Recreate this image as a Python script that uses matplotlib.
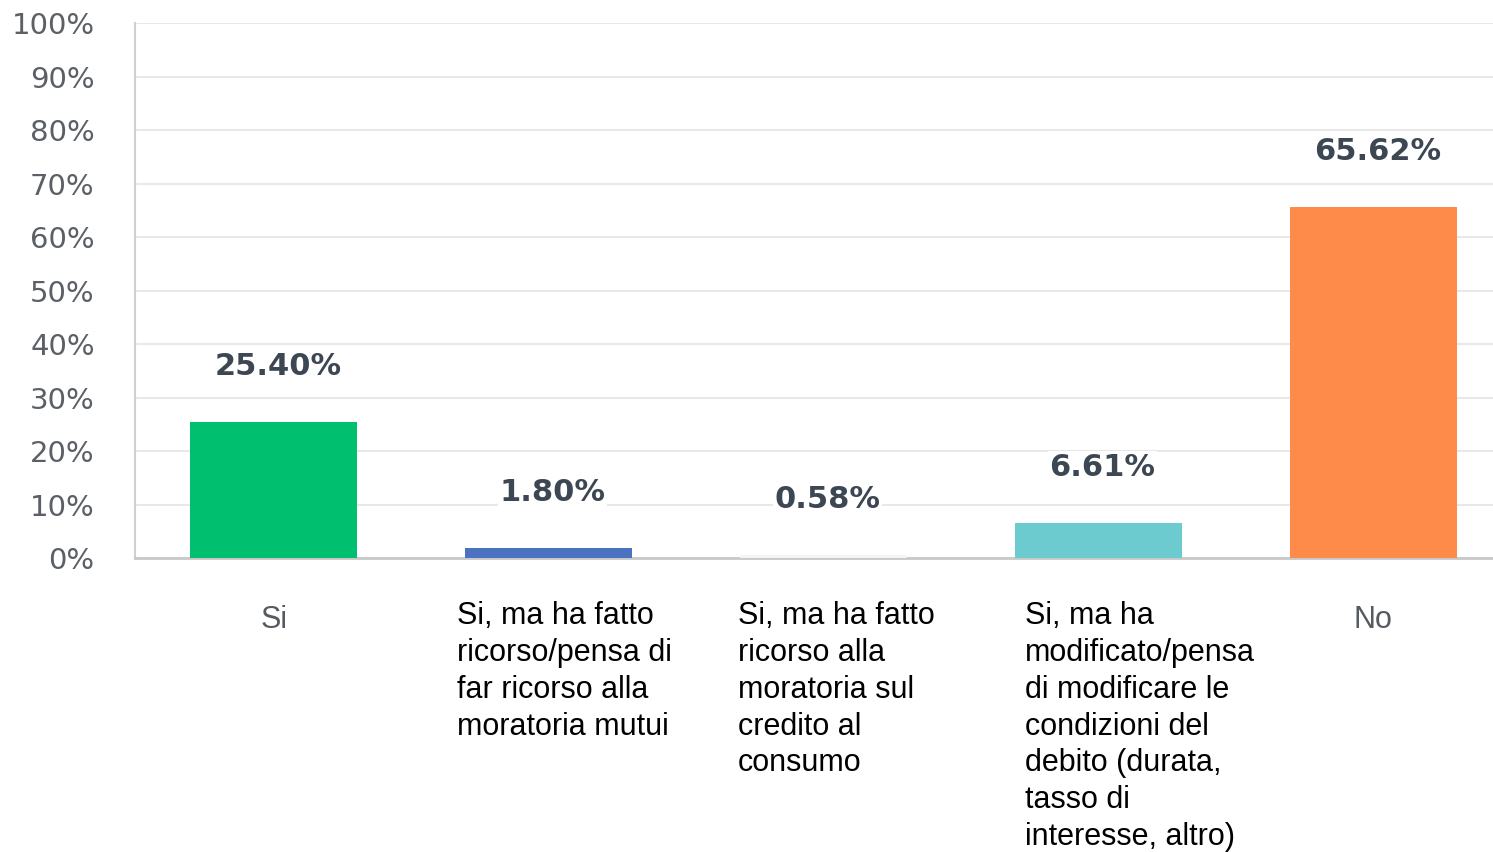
import matplotlib
matplotlib.use("Agg")
from matplotlib import pyplot as plt
from matplotlib.ticker import FuncFormatter

# data
categories = ["Si",
              "Si, ma ha fatto\nricorso/pensa di\nfar ricorso alla\nmoratoria mutui",
              "Si, ma ha fatto\nricorso alla\nmoratoria sul\ncredito al\nconsumo",
              "Si, ma ha\nmodificato/pensa\ndi modificare le\ncondizioni del\ndebito (durata,\ntasso di\ninteresse, altro)",
              "No"]
values = [25.40, 1.80, 0.58, 6.61, 65.62]
value_labels = ["25.40%", "1.80%", "0.58%", "6.61%", "65.62%"]
yticks = [0, 10, 20, 30, 40, 50, 60, 70, 80, 90, 100]

colors = ['#00bf6f', '#4a72c0', '#f4f4f4', '#6ccbce', '#ff8b4b']

fig = plt.figure(figsize=(14.93, 8.52), dpi=100)
ax = fig.add_axes([0.0904, 0.345, 0.9096, 0.628])

x = list(range(len(categories)))
ax.bar(x, values, width=0.607, color=colors, zorder=3)

ax.set_xlim(-0.505, 4.436)
ax.set_ylim(0, 100)
ax.set_yticks(yticks)
ax.yaxis.set_major_formatter(FuncFormatter(lambda v, p: f"{int(v)}%"))
ax.tick_params(axis='y', length=0, pad=29, labelsize=21, labelcolor='#5a6066')
ax.tick_params(axis='x', length=0)
ax.set_xticks([])

ax.grid(axis='y', color='#e8e8e8', linewidth=1.5, zorder=0)
for s in ['top', 'right']:
    ax.spines[s].set_visible(False)
ax.spines['left'].set_color('#d0d0d0')
ax.spines['left'].set_linewidth(1.5)
ax.spines['bottom'].set_color('#c8c8c8')
ax.spines['bottom'].set_linewidth(2)

# value labels above bars
for xi, v, lab in zip(x, values, value_labels):
    t = ax.annotate(lab, (xi + 0.015, v), xytext=(0, 40), textcoords='offset points',
                    ha='center', va='center', fontsize=22, fontweight='bold',
                    color='#3d4753', zorder=4)
    t.set_bbox(dict(facecolor='white', edgecolor='none', pad=1))

# category labels
label_off = [0, -0.334, -0.311, -0.267, 0]
for xi, cat, off in zip(x, categories, label_off):
    if off == 0:
        ax.text(xi, -8.8, cat, ha='center', va='top', fontsize=22,
                family='Liberation Sans', color='#555b61')
    else:
        ax.text(xi + off, -8.0, cat, ha='left', va='top', fontsize=22,
                family='Liberation Sans', color='black', linespacing=1.3)

fig.savefig('out.png', dpi=100, facecolor='w')
